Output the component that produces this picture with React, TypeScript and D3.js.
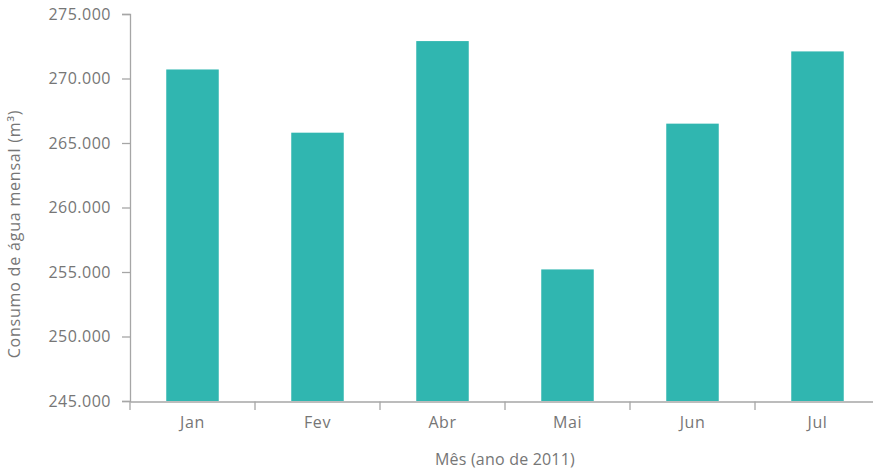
import React, { useEffect, useRef } from "react";
import * as d3 from "d3";

const categories = ["Jan", "Fev", "Abr", "Mai", "Jun", "Jul"];
const values = [270700, 265800, 272900, 255200, 266500, 272100];
const yTicks = [245000, 250000, 255000, 260000, 265000, 270000, 275000];
const yTitle = "Consumo de água mensal (m³)";
const xTitle = "Mês (ano de 2011)";

const W = 873;
const H = 470;
const FONT = "'Open Sans', Lato, sans-serif";
const TEXT = "#767676";
const AXIS = "#a6a6a6";
const BAR = "#30b6b0";

export default function App() {
  const ref = useRef<SVGSVGElement>(null);

  useEffect(() => {
    document.body.style.margin = "0";
    const svg = d3.select(ref.current);
    svg.selectAll("*").remove();

    const x = d3.scaleBand().domain(categories).range([130, 880]).paddingInner(0.58).paddingOuter(0.29);
    const xTicksScale = d3.scaleBand().domain(categories).range([130, 880]);
    const y = d3.scaleLinear().domain([245000, 275000]).range([401, 14]);

    // bars
    svg
      .append("g")
      .selectAll("rect")
      .data(values)
      .join("rect")
      .attr("x", (_, i) => x(categories[i])!)
      .attr("width", x.bandwidth())
      .attr("y", (d) => y(d))
      .attr("height", (d) => y(245000) - y(d))
      .attr("fill", BAR);

    // y axis
    const yAxis = svg
      .append("g")
      .attr("transform", "translate(130,0)")
      .call(
        d3
          .axisLeft(y)
          .tickValues(yTicks)
          .tickSize(8)
          .tickPadding(11)
          .tickFormat((d) => d3.format(",")(d as number).replace(/,/g, "."))
      );
    yAxis.select(".domain").attr("stroke", AXIS).attr("stroke-width", 1.3);
    yAxis.selectAll(".tick line").attr("stroke", AXIS).attr("stroke-width", 1.3);
    yAxis
      .selectAll(".tick text")
      .attr("fill", TEXT)
      .attr("font-family", FONT)
      .attr("font-size", 16)
      .attr("letter-spacing", 0.5);

    // x axis
    const xAxis = svg
      .append("g")
      .attr("transform", "translate(0,401.5)")
      .call(d3.axisBottom(x).tickSize(0).tickPadding(15));
    xAxis.select(".domain").attr("stroke", AXIS).attr("stroke-width", 1.3);
    xAxis
      .selectAll(".tick text")
      .attr("fill", TEXT)
      .attr("font-family", FONT)
      .attr("font-size", 16)
      .attr("letter-spacing", 0.6);

    // boundary ticks
    const bounds = categories.map((c) => xTicksScale(c)!).concat([880]);
    svg
      .append("g")
      .selectAll("line")
      .data(bounds)
      .join("line")
      .attr("x1", (d) => d)
      .attr("x2", (d) => d)
      .attr("y1", 401.5)
      .attr("y2", 410)
      .attr("stroke", AXIS)
      .attr("stroke-width", 1.3);

    // titles
    svg
      .append("text")
      .attr("x", 505)
      .attr("y", 465)
      .attr("text-anchor", "middle")
      .attr("fill", TEXT)
      .attr("font-family", FONT)
      .attr("font-size", 16)
      .attr("letter-spacing", 0.2)
      .text(xTitle);

    svg
      .append("text")
      .attr("transform", "translate(20,234) rotate(-90)")
      .attr("text-anchor", "middle")
      .attr("fill", TEXT)
      .attr("font-family", FONT)
      .attr("font-size", 16)
      .attr("letter-spacing", 0.8)
      .text(yTitle);
  }, []);

  return <svg ref={ref} width={W} height={H} style={{ display: "block" }} />;
}
